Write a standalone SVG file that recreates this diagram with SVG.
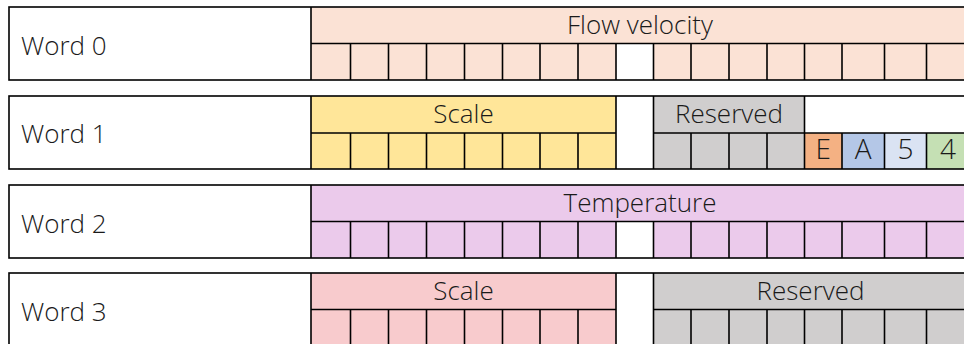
<svg xmlns="http://www.w3.org/2000/svg" width="964" height="344" viewBox="0 0 964 344">
<style>
.ln{fill:none;stroke:#000;stroke-width:1.6}
.t{font-family:"Open Sans","Liberation Sans",sans-serif;font-weight:300;fill:#1a1a1a}
.lab{font-size:26px}
.hd{font-size:26px;text-anchor:middle}
.cl{font-size:28px;text-anchor:middle}
.peach{fill:#FBE2D5}.yel{fill:#FFE699}.gry{fill:#D0CECE}.pur{fill:#EBCAEB}.pnk{fill:#F8CBCD}
.org{fill:#F4B183}.blu{fill:#B4C7E7}.lbl{fill:#DAE3F3}.grn{fill:#C5E0B4}
</style>
<rect width="964" height="344" fill="#fff"/>

<g id="word0">
<rect class="peach" x="311" y="7" width="660" height="36.5"/>
<rect class="peach" x="311" y="43.5" width="305" height="36.5"/>
<rect class="peach" x="653.5" y="43.5" width="317" height="36.5"/>
<rect class="ln" x="9" y="7" width="962" height="73"/>
<path class="ln" d="M311,7V80M311,43.5H971M350.5,43.5V80M388.5,43.5V80M426.5,43.5V80M464.5,43.5V80M502.5,43.5V80M540,43.5V80M578,43.5V80M616,43.5V80M653.5,43.5V80M691,43.5V80M729,43.5V80M767,43.5V80M804.5,43.5V80M842,43.5V80M884.5,43.5V80M926.5,43.5V80"/>
<text class="t lab" x="21" y="55">Word 0</text>
<text class="t hd" x="640" y="34">Flow velocity</text>
</g>

<g id="word1">
<rect class="yel" x="311" y="96" width="305" height="73"/>
<rect class="gry" x="653.5" y="96" width="151" height="73"/>
<rect class="org" x="804.5" y="133" width="37.5" height="36"/>
<rect class="blu" x="842" y="133" width="42.5" height="36"/>
<rect class="lbl" x="884.5" y="133" width="42" height="36"/>
<rect class="grn" x="926.5" y="133" width="44.5" height="36"/>
<rect class="ln" x="9" y="96" width="962" height="73"/>
<path class="ln" d="M311,96V169M616,96V169M653.5,96V169M804.5,96V169M311,133H616M653.5,133H971M350.5,133V169M388.5,133V169M426.5,133V169M464.5,133V169M502.5,133V169M540,133V169M578,133V169M691,133V169M729,133V169M767,133V169M842,133V169M884.5,133V169M926.5,133V169"/>
<text class="t lab" x="21" y="143">Word 1</text>
<text class="t hd" x="463.5" y="122.5">Scale</text>
<text class="t hd" x="729" y="122.5">Reserved</text>
<text class="t cl" x="823.2" y="158.5">E</text>
<text class="t cl" x="863.2" y="158.5">A</text>
<text class="t cl" x="905.5" y="158.5">5</text>
<text class="t cl" x="948" y="158.5">4</text>
</g>

<g id="word2">
<rect class="pur" x="311" y="185" width="660" height="36.5"/>
<rect class="pur" x="311" y="221.5" width="305" height="36.5"/>
<rect class="pur" x="653.5" y="221.5" width="317" height="36.5"/>
<rect class="ln" x="9" y="185" width="962" height="73"/>
<path class="ln" d="M311,185V258M311,221.5H971M350.5,221.5V258M388.5,221.5V258M426.5,221.5V258M464.5,221.5V258M502.5,221.5V258M540,221.5V258M578,221.5V258M616,221.5V258M653.5,221.5V258M691,221.5V258M729,221.5V258M767,221.5V258M804.5,221.5V258M842,221.5V258M884.5,221.5V258M926.5,221.5V258"/>
<text class="t lab" x="21" y="233">Word 2</text>
<text class="t hd" x="640" y="212">Temperature</text>
</g>

<g id="word3">
<rect class="pnk" x="311" y="273" width="305" height="73"/>
<rect class="gry" x="653.5" y="273" width="317" height="73"/>
<rect class="ln" x="9" y="273" width="962" height="73"/>
<path class="ln" d="M311,273V346M616,273V346M653.5,273V346M311,309.5H616M653.5,309.5H971M350.5,309.5V346M388.5,309.5V346M426.5,309.5V346M464.5,309.5V346M502.5,309.5V346M540,309.5V346M578,309.5V346M691,309.5V346M729,309.5V346M767,309.5V346M804.5,309.5V346M842,309.5V346M884.5,309.5V346M926.5,309.5V346"/>
<text class="t lab" x="21" y="321">Word 3</text>
<text class="t hd" x="463.5" y="300">Scale</text>
<text class="t hd" x="810.5" y="300">Reserved</text>
</g>

<g id="connectors"/>
</svg>
